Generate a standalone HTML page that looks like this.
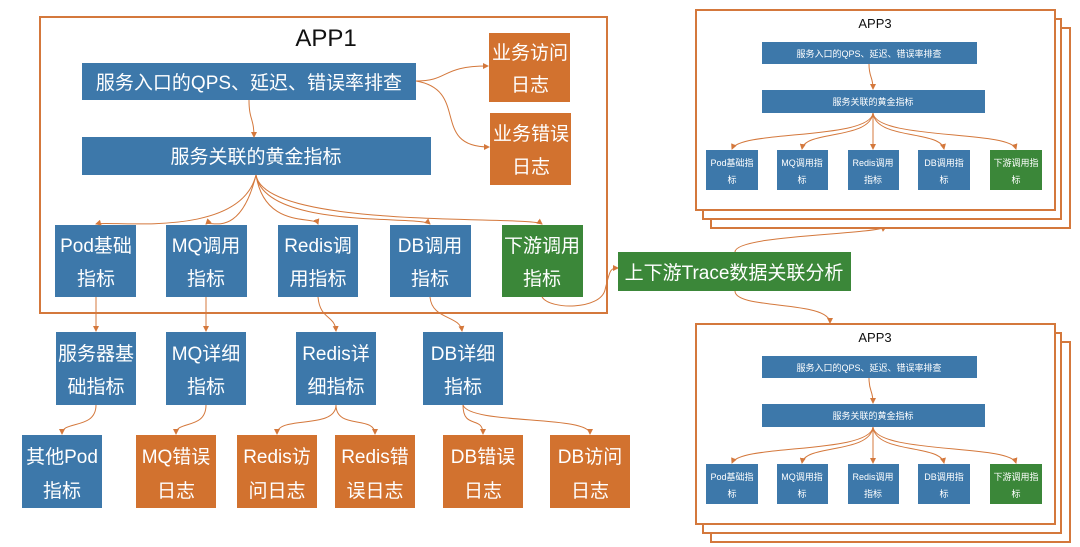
<!DOCTYPE html>
<html><head><meta charset="utf-8"><style>
body{margin:0;background:#fff;}
svg{display:block;font-family:"Liberation Sans","Noto Sans CJK SC",sans-serif;}
.b{fill:#3d78aa;}
.o{fill:#d2722f;}
.g{fill:#3b8739;}
.f{fill:#fff;stroke:#d4783c;stroke-width:2;}
.t{fill:#fff;text-anchor:middle;}
.c{fill:none;stroke:#d4783c;stroke-width:1;}
</style></head><body>
<svg width="1080" height="547" viewBox="0 0 1080 547" xmlns="http://www.w3.org/2000/svg">
<defs><marker id="a" markerWidth="6" markerHeight="6" refX="5" refY="3" orient="auto"><path d="M0,0 L6,3 L0,6z" fill="#d4783c"/></marker></defs>
<!-- APP1 -->
<rect class="f" x="40" y="17" width="567" height="296"/>
<text x="326" y="46" font-size="24" text-anchor="middle" fill="#111">APP1</text>
<rect class="b" x="82" y="63" width="334" height="37"/>
<text class="t" x="249" y="89" font-size="19">服务入口的QPS、延迟、错误率排查</text>
<rect class="b" x="82" y="137" width="349" height="38"/>
<text class="t" x="256" y="163" font-size="19">服务关联的黄金指标</text>
<rect class="o" x="489" y="33" width="81" height="69"/>
<text class="t" x="530" y="59" font-size="19">业务访问</text><text class="t" x="530" y="91" font-size="19">日志</text>
<rect class="o" x="490" y="113" width="81" height="72"/>
<text class="t" x="531" y="140" font-size="19">业务错误</text><text class="t" x="531" y="173" font-size="19">日志</text>
<path class="c" marker-end="url(#a)" d="M416,81 C450,81 440,66 488,66"/>
<path class="c" marker-end="url(#a)" d="M416,81 C470,90 430,147 489,147"/>
<path class="c" marker-end="url(#a)" d="M249,100 C249,120 254,118 254,137"/>
<g font-size="19">
<rect class="b" x="55" y="225" width="81" height="72"/><text class="t" x="96" y="252">Pod基础</text><text class="t" x="96" y="285">指标</text>
<rect class="b" x="166" y="225" width="81" height="72"/><text class="t" x="206" y="252">MQ调用</text><text class="t" x="206" y="285">指标</text>
<rect class="b" x="278" y="225" width="80" height="72"/><text class="t" x="318" y="252">Redis调</text><text class="t" x="318" y="285">用指标</text>
<rect class="b" x="390" y="225" width="81" height="72"/><text class="t" x="430" y="252">DB调用</text><text class="t" x="430" y="285">指标</text>
<rect class="g" x="502" y="225" width="81" height="72"/><text class="t" x="542" y="252">下游调用</text><text class="t" x="542" y="285">指标</text>
</g>
<g class="c" marker-end="url(#a)">
<path d="M256,175 C240,240 110,220 96,224"/>
<path d="M256,175 C240,240 210,220 206,224"/>
<path d="M256,175 C265,230 315,215 318,224"/>
<path d="M256,175 C265,230 420,215 430,224"/>
<path d="M256,175 C265,230 530,215 542,224"/>
<path d="M542,297 C550,310 600,310 605,290 C610,270 610,268 618,268"/>
<path d="M96,297 L96,331"/>
<path d="M206,297 L206,331"/>
<path d="M318,297 C320,320 335,315 336,331"/>
<path d="M430,297 C432,320 460,315 462,331"/>
<path d="M96,405 C96,430 62,420 62,434"/>
<path d="M206,405 C206,430 176,420 176,434"/>
<path d="M336,405 C336,430 277,415 277,434"/>
<path d="M336,405 C336,430 375,415 375,434"/>
<path d="M463,405 C463,430 483,415 483,434"/>
<path d="M463,405 C470,425 590,415 590,434"/>
<path d="M735,252 C735,235 870,235 886,227"/>
<path d="M735,291 C735,310 830,300 830,323"/>
</g>
<g font-size="19">
<rect class="b" x="56" y="332" width="80" height="73"/><text class="t" x="96" y="360">服务器基</text><text class="t" x="96" y="393">础指标</text>
<rect class="b" x="166" y="332" width="80" height="73"/><text class="t" x="206" y="360">MQ详细</text><text class="t" x="206" y="393">指标</text>
<rect class="b" x="296" y="332" width="80" height="73"/><text class="t" x="336" y="360">Redis详</text><text class="t" x="336" y="393">细指标</text>
<rect class="b" x="423" y="332" width="80" height="73"/><text class="t" x="463" y="360">DB详细</text><text class="t" x="463" y="393">指标</text>
<rect class="b" x="22" y="435" width="80" height="73"/><text class="t" x="62" y="463">其他Pod</text><text class="t" x="62" y="497">指标</text>
<rect class="o" x="136" y="435" width="80" height="73"/><text class="t" x="176" y="463">MQ错误</text><text class="t" x="176" y="497">日志</text>
<rect class="o" x="237" y="435" width="80" height="73"/><text class="t" x="277" y="463">Redis访</text><text class="t" x="277" y="497">问日志</text>
<rect class="o" x="335" y="435" width="80" height="73"/><text class="t" x="375" y="463">Redis错</text><text class="t" x="375" y="497">误日志</text>
<rect class="o" x="443" y="435" width="80" height="73"/><text class="t" x="483" y="463">DB错误</text><text class="t" x="483" y="497">日志</text>
<rect class="o" x="550" y="435" width="80" height="73"/><text class="t" x="590" y="463">DB访问</text><text class="t" x="590" y="497">日志</text>
</g>
<rect class="g" x="618" y="252" width="233" height="39"/>
<text class="t" x="734" y="279" font-size="19">上下游Trace数据关联分析</text>
<!-- APP3 top -->
<rect class="f" x="711" y="28" width="359" height="200"/>
<rect class="f" x="703" y="19" width="358" height="200"/>
<rect class="f" x="696" y="10" width="359" height="200"/>
<text x="875" y="28" font-size="13" text-anchor="middle" fill="#111">APP3</text>
<rect class="b" x="762" y="42" width="215" height="22"/><text class="t" x="869" y="57" font-size="9">服务入口的QPS、延迟、错误率排查</text>
<rect class="b" x="762" y="90" width="223" height="23"/><text class="t" x="873" y="105" font-size="9">服务关联的黄金指标</text>
<g class="c" marker-end="url(#a)">
<path d="M869,64 C869,78 873,76 873,89"/>
<path d="M873,113 C870,140 740,130 732,149"/>
<path d="M873,113 C870,140 805,130 802,149"/>
<path d="M873,113 L873,149"/>
<path d="M873,113 C876,140 940,130 944,149"/>
<path d="M873,113 C876,140 1010,130 1016,149"/>
</g>
<g font-size="9">
<rect class="b" x="706" y="150" width="52" height="40"/><text class="t" x="732" y="166">Pod基础指</text><text class="t" x="732" y="183">标</text>
<rect class="b" x="777" y="150" width="51" height="40"/><text class="t" x="802" y="166">MQ调用指</text><text class="t" x="802" y="183">标</text>
<rect class="b" x="848" y="150" width="51" height="40"/><text class="t" x="873" y="166">Redis调用</text><text class="t" x="873" y="183">指标</text>
<rect class="b" x="918" y="150" width="52" height="40"/><text class="t" x="944" y="166">DB调用指</text><text class="t" x="944" y="183">标</text>
<rect class="g" x="990" y="150" width="52" height="40"/><text class="t" x="1016" y="166">下游调用指</text><text class="t" x="1016" y="183">标</text>
</g>
<!-- APP3 bottom -->
<rect class="f" x="711" y="342" width="359" height="200"/>
<rect class="f" x="703" y="333" width="358" height="200"/>
<rect class="f" x="696" y="324" width="359" height="200"/>
<text x="875" y="342" font-size="13" text-anchor="middle" fill="#111">APP3</text>
<rect class="b" x="762" y="356" width="215" height="22"/><text class="t" x="869" y="371" font-size="9">服务入口的QPS、延迟、错误率排查</text>
<rect class="b" x="762" y="404" width="223" height="23"/><text class="t" x="873" y="419" font-size="9">服务关联的黄金指标</text>
<g class="c" marker-end="url(#a)">
<path d="M869,378 C869,392 873,390 873,403"/>
<path d="M873,427 C870,454 740,444 732,463"/>
<path d="M873,427 C870,454 805,444 802,463"/>
<path d="M873,427 L873,463"/>
<path d="M873,427 C876,454 940,444 944,463"/>
<path d="M873,427 C876,454 1010,444 1016,463"/>
</g>
<g font-size="9">
<rect class="b" x="706" y="464" width="52" height="40"/><text class="t" x="732" y="480">Pod基础指</text><text class="t" x="732" y="497">标</text>
<rect class="b" x="777" y="464" width="51" height="40"/><text class="t" x="802" y="480">MQ调用指</text><text class="t" x="802" y="497">标</text>
<rect class="b" x="848" y="464" width="51" height="40"/><text class="t" x="873" y="480">Redis调用</text><text class="t" x="873" y="497">指标</text>
<rect class="b" x="918" y="464" width="52" height="40"/><text class="t" x="944" y="480">DB调用指</text><text class="t" x="944" y="497">标</text>
<rect class="g" x="990" y="464" width="52" height="40"/><text class="t" x="1016" y="480">下游调用指</text><text class="t" x="1016" y="497">标</text>
</g>
</svg>
</body></html>
